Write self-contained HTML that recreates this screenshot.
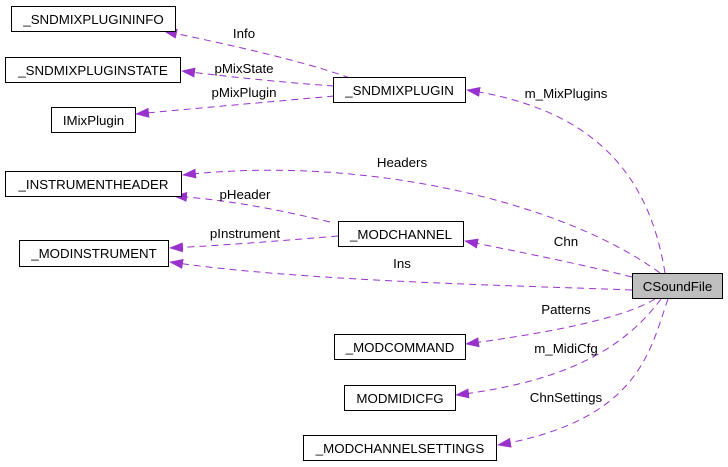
<!DOCTYPE html>
<html><head><meta charset="utf-8"><style>
html,body{margin:0;padding:0;background:#fff;}
svg{display:block;font-family:"Liberation Sans",Arial,sans-serif;font-size:13.3px;}
</style></head><body>
<svg width="728" height="467" viewBox="0 0 728 467" xmlns="http://www.w3.org/2000/svg">
<defs>
<marker id="a" markerWidth="14" markerHeight="10" refX="13" refY="5" orient="auto" markerUnits="userSpaceOnUse">
<path d="M0,0 L14,5 L0,10 Z" fill="#9932cc"/>
</marker>
</defs>
<g fill="none" stroke="#9932cc" stroke-width="1" stroke-dasharray="7,5">
<path d="M350,78 C300,60 230,45 164,31" marker-end="url(#a)"/>
<path d="M334,86 C290,83 240,78 182,71" marker-end="url(#a)"/>
<path d="M334,96 C280,101 210,107 136,114" marker-end="url(#a)"/>
<path d="M665,273 C650,180 600,110 467,90" marker-end="url(#a)"/>
<path d="M660,273 C560,200 360,155 183,175" marker-end="url(#a)"/>
<path d="M330,222 C280,210 230,200 174,196" marker-end="url(#a)"/>
<path d="M338,236 C290,240 230,245 170,248" marker-end="url(#a)"/>
<path d="M632,277 C580,264 520,252 465,241" marker-end="url(#a)"/>
<path d="M632,290 C500,285 300,281 170,262" marker-end="url(#a)"/>
<path d="M655,299 C620,320 540,334 466,344" marker-end="url(#a)"/>
<path d="M661,299 C630,340 580,380 456,395" marker-end="url(#a)"/>
<path d="M668,299 C650,350 640,420 498,445" marker-end="url(#a)"/>
</g>
<g fill="#fff" stroke="#000" stroke-width="1">
<rect x="11.5" y="6.5" width="164" height="25"/>
<rect x="5.5" y="57.5" width="175" height="25"/>
<rect x="51.5" y="107.5" width="84" height="25"/>
<rect x="333.5" y="77.5" width="132" height="25"/>
<rect x="5.5" y="171.5" width="176" height="25"/>
<rect x="338.5" y="221.5" width="125" height="25"/>
<rect x="19.5" y="240.5" width="149" height="26"/>
<rect x="632.5" y="273.5" width="90" height="25" fill="#bfbfbf"/>
<rect x="334.5" y="334.5" width="131" height="25"/>
<rect x="344.5" y="385.5" width="111" height="25"/>
<rect x="303.5" y="435.5" width="193" height="25"/>
</g>
<g fill="#000" text-anchor="middle">
<text x="93.5" y="24">_SNDMIXPLUGININFO</text>
<text x="93" y="75">_SNDMIXPLUGINSTATE</text>
<text x="93.5" y="125">IMixPlugin</text>
<text x="399.5" y="95">_SNDMIXPLUGIN</text>
<text x="93.5" y="189">_INSTRUMENTHEADER</text>
<text x="401" y="239">_MODCHANNEL</text>
<text x="94" y="258">_MODINSTRUMENT</text>
<text x="677.5" y="291">CSoundFile</text>
<text x="400" y="352">_MODCOMMAND</text>
<text x="400" y="403">MODMIDICFG</text>
<text x="400" y="453">_MODCHANNELSETTINGS</text>
<text x="244" y="38">Info</text>
<text x="244" y="73">pMixState</text>
<text x="244" y="97">pMixPlugin</text>
<text x="566" y="98">m_MixPlugins</text>
<text x="402" y="167">Headers</text>
<text x="245" y="199">pHeader</text>
<text x="245" y="238">pInstrument</text>
<text x="566" y="246">Chn</text>
<text x="402" y="268">Ins</text>
<text x="566" y="314">Patterns</text>
<text x="566" y="353">m_MidiCfg</text>
<text x="566" y="402">ChnSettings</text>
</g>
</svg>
</body></html>
